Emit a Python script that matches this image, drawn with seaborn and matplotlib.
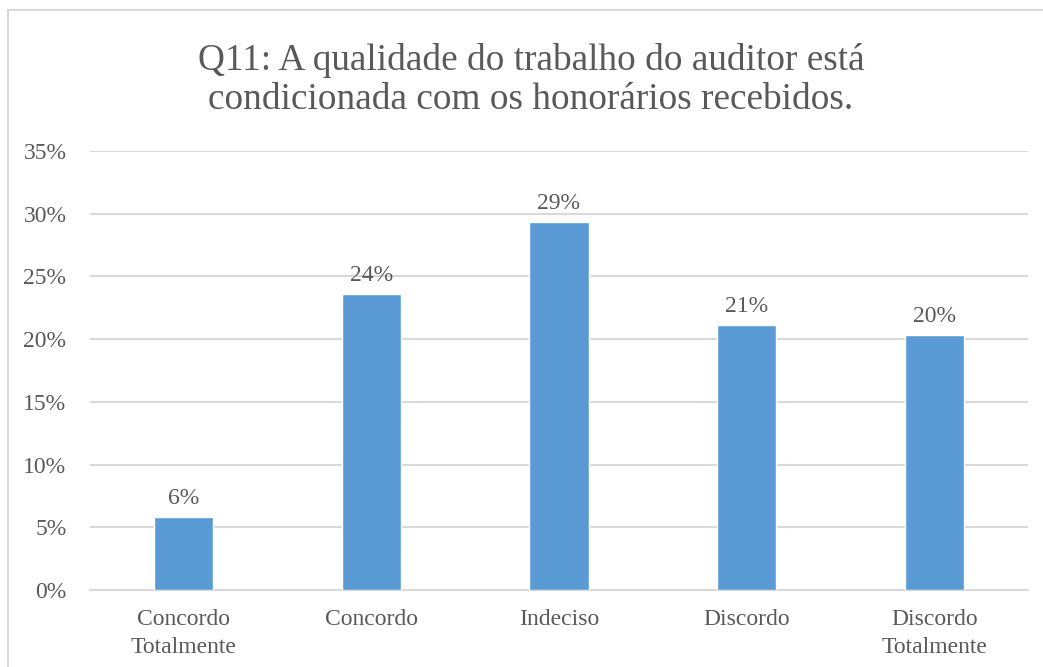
import matplotlib
matplotlib.use("Agg")
import matplotlib.pyplot as plt
import seaborn as sns
import pandas as pd
from matplotlib.patches import Rectangle
from matplotlib.ticker import FuncFormatter, MultipleLocator

categories = ["Concordo\nTotalmente", "Concordo", "Indeciso", "Discordo", "Discordo\nTotalmente"]
values = [5.8, 23.6, 29.3, 21.1, 20.3]
labels = ["6%", "24%", "29%", "21%", "20%"]
title = "Q11: A qualidade do trabalho do auditor está\ncondicionada com os honorários recebidos."

sns.set_theme(style="white")
plt.rcParams['font.family'] = ['Liberation Serif', 'DejaVu Serif']
text_color = "#595959"

df = pd.DataFrame({"cat": categories, "val": values})

fig = plt.figure(figsize=(10.43, 6.67), dpi=100)
ax = fig.add_axes([90/1043, 1 - 590/667, (1028-90)/1043, (590-151)/667])

sns.barplot(data=df, x="cat", y="val", color="#5b9bd5", width=0.315, saturation=1, ax=ax, zorder=3)

ax.set_ylim(0, 35)
ax.set_xlim(-0.5, 4.5)
ax.yaxis.set_major_locator(MultipleLocator(5))
ax.yaxis.set_major_formatter(FuncFormatter(lambda v, p: f"{int(round(v))}%"))
ax.grid(axis="y", color="#d9d9d9", linewidth=1.5, zorder=0)
ax.set_axisbelow(True)
for s in ["top", "right", "left"]:
    ax.spines[s].set_visible(False)
ax.spines["bottom"].set_color("#d9d9d9")
ax.spines["bottom"].set_linewidth(1.5)
ax.set_xlabel("")
ax.set_ylabel("")
ax.tick_params(axis="both", length=0, labelsize=17, colors=text_color)
ax.tick_params(axis="x", pad=14)
ax.tick_params(axis="y", pad=17)
for lbl in ax.get_xticklabels():
    lbl.set_linespacing(1.4)

for cont in ax.containers:
    ax.bar_label(cont, labels=labels, padding=6, fontsize=17, color=text_color)

fig.text(531/1043, 1 - 80/667, title, ha="center", va="center", fontsize=26.8,
         color=text_color, linespacing=1.2)

fig.patches.append(Rectangle((8/1043, -0.1), 1.2, 1 - 10/667 + 0.1, transform=fig.transFigure,
                             fill=False, edgecolor="#d9d9d9", linewidth=1.5))

fig.savefig("out.png", dpi=100)
